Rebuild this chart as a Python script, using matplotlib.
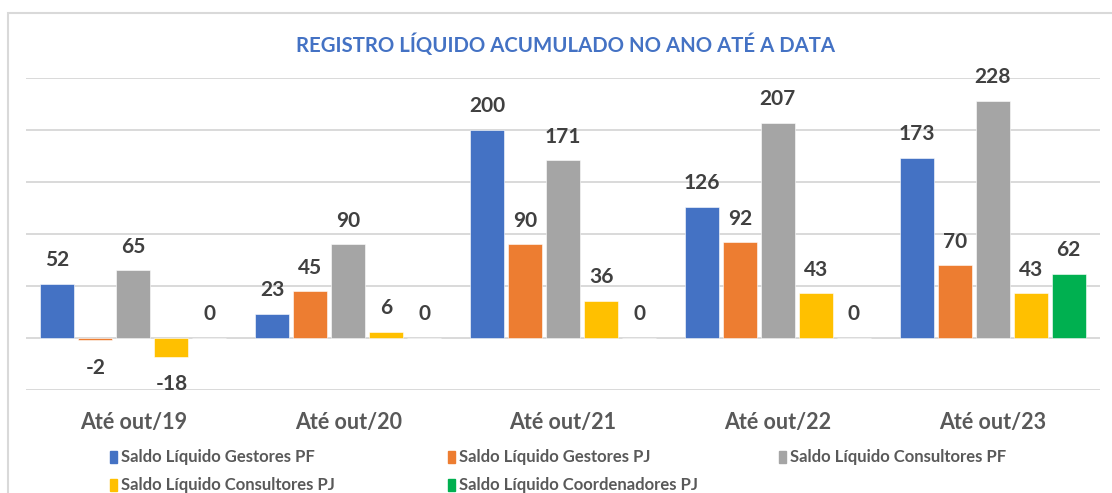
import numpy as np
import matplotlib
matplotlib.use("Agg")
import matplotlib.pyplot as plt
from matplotlib.patches import Rectangle

# dados do gráfico
categorias = ["Até out/19", "Até out/20", "Até out/21", "Até out/22", "Até out/23"]
gestores_pf = [52, 23, 200, 126, 173]
gestores_pj = [-2, 45, 90, 92, 70]
consultores_pf = [65, 90, 171, 207, 228]
consultores_pj = [-18, 6, 36, 43, 43]
coordenadores_pj = [0, 0, 0, 0, 62]

nomes = [
    "Saldo Líquido Gestores PF",
    "Saldo Líquido Gestores PJ",
    "Saldo Líquido Consultores PF",
    "Saldo Líquido Consultores PJ",
    "Saldo Líquido Coordenadores PJ",
]
cores = ["#4472C4", "#ED7D31", "#A5A5A5", "#FFC000", "#00B050"]
series = [gestores_pf, gestores_pj, consultores_pf, consultores_pj, coordenadores_pj]

plt.rcParams["font.family"] = ["Lato", "DejaVu Sans"]

W, H = 1112, 493
fig = plt.figure(figsize=(W / 100, H / 100), dpi=100)
ax = fig.add_axes([26 / W, 1 - 390 / H, (1100 - 26) / W, (390 - 78) / H])

x = np.arange(len(categorias))
passo = 38 / 214.8
largura = 34 / 214.8

for i, (vals, cor) in enumerate(zip(series, cores)):
    pos = x + (i - 2) * passo
    ax.bar(pos, vals, width=largura, color=cor, edgecolor="white", linewidth=0.4, zorder=3)
    for xb, v in zip(pos, vals):
        dy = 17 if v >= 0 else -20
        ax.annotate(str(v), (xb, v), xytext=(0, dy), textcoords="offset points",
                    ha="center", va="center", fontsize=15, fontweight="bold",
                    color="#404040")

ax.set_xlim(-0.5, len(categorias) - 0.5)
ax.set_ylim(-50, 250)
ax.set_yticks(np.arange(-50, 251, 50))
ax.yaxis.grid(True, color="#D9D9D9", linewidth=1.4, zorder=0)
ax.tick_params(axis="y", left=False, labelleft=False)
ax.tick_params(axis="x", bottom=False, pad=12)
ax.set_xticks(x)
ax.set_xticklabels(categorias, fontsize=15.5, fontweight="bold", color="#595959")
for s in ax.spines.values():
    s.set_visible(False)

fig.text(565 / W, 1 - 45 / H, "REGISTRO LÍQUIDO ACUMULADO NO ANO ATÉ A DATA",
         ha="center", va="center", fontsize=14.7, fontweight="bold", color="#4472C4")

# moldura do gráfico (cortada à direita e embaixo)
fig.patches.append(Rectangle((8 / W, -0.05), 1.1, 1 - 13 / H + 0.05,
                             transform=fig.transFigure, fill=False,
                             edgecolor="#D9D9D9", linewidth=1.5))

# legenda montada à mão (colunas desiguais como no Excel)
leg_x = [110, 448, 779, 110, 448]
leg_y = [457, 457, 457, 485, 485]
for cor, nome, lx, ly in zip(cores, nomes, leg_x, leg_y):
    fig.patches.append(Rectangle((lx / W, 1 - (ly + 6) / H), 7 / W, 12 / H,
                                 transform=fig.transFigure, color=cor))
    fig.text((lx + 11) / W, 1 - ly / H, nome, ha="left", va="center",
             fontsize=12, fontweight="bold", color="#595959")

fig.savefig("out.png", dpi=100)
